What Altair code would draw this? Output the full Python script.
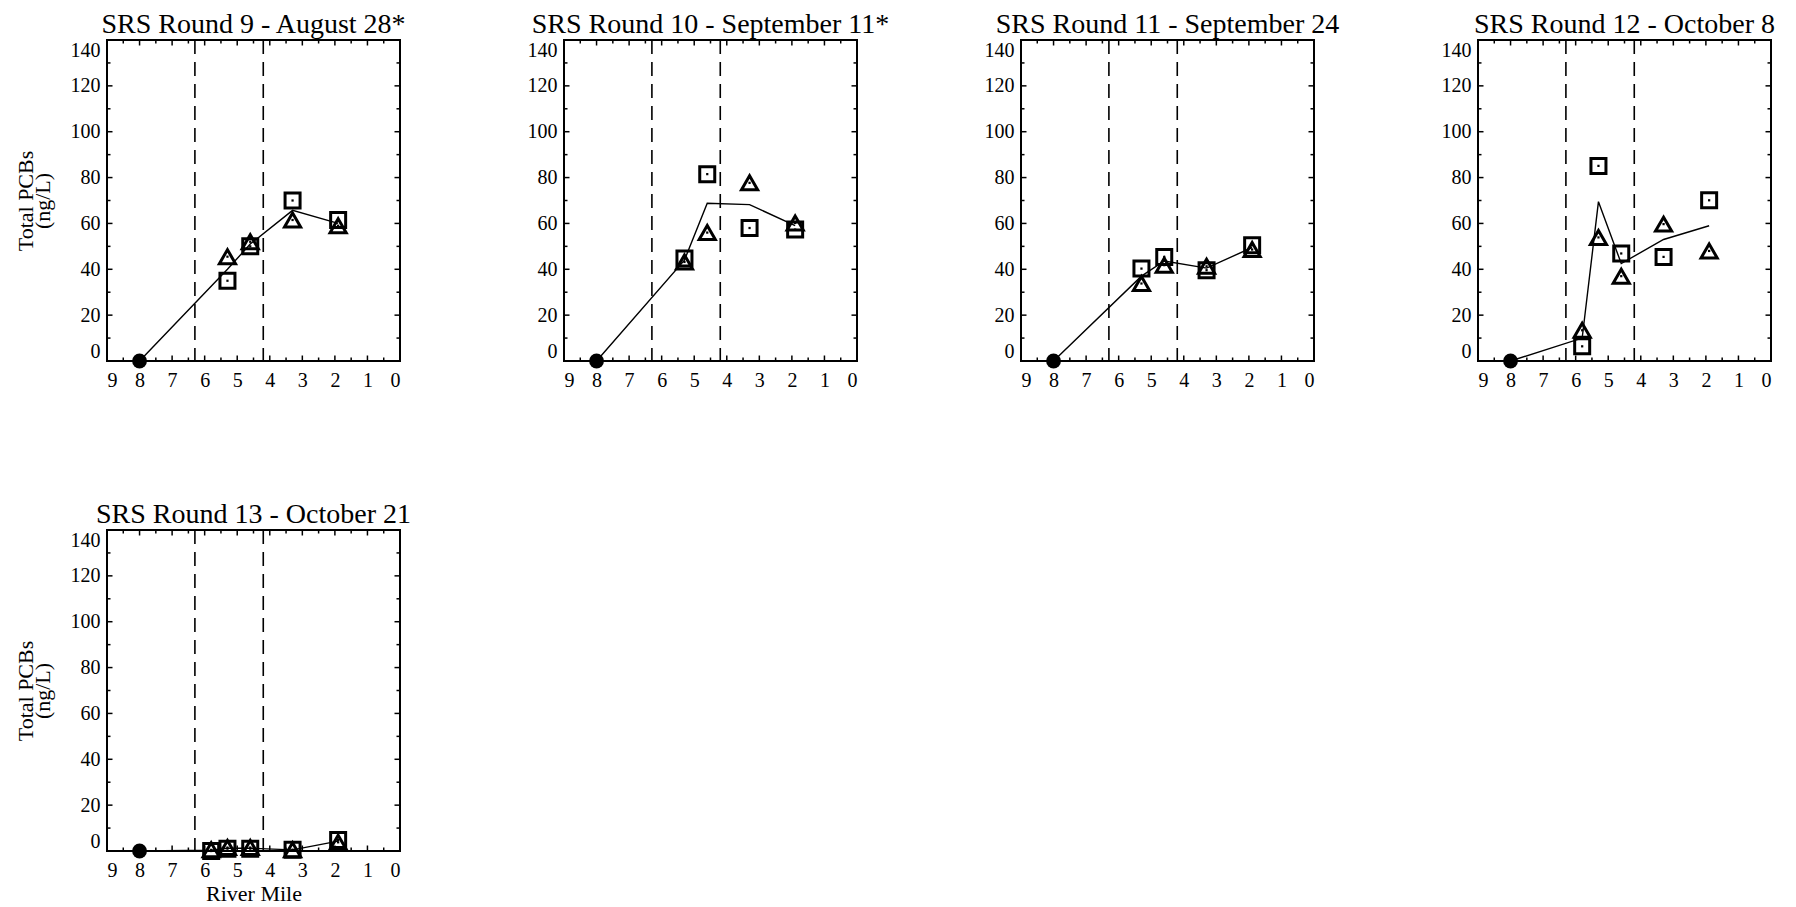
import altair as alt
import pandas as pd

FONT = "Liberation Serif"

titles = [
    "SRS Round 9 - August 28*",
    "SRS Round 10 - September 11*",
    "SRS Round 11 - September 24",
    "SRS Round 12 - October 8",
    "SRS Round 13 - October 21",
]

# River mile of sampling stations (x) and Total PCBs ng/L (y)
# Round 9
r9_sq_x = [5.3, 4.6, 3.3, 1.9]
r9_sq_y = [35, 50, 70, 61.5]
r9_tri_x = [5.3, 4.6, 3.3, 1.9]
r9_tri_y = [45.5, 52, 61.5, 59]
r9_line_x = [8, 5.3, 4.6, 3.3, 1.9]
r9_line_y = [0, 40, 51, 65.7, 60]
# Round 10
r10_sq_x = [5.3, 4.6, 3.3, 1.9]
r10_sq_y = [44.7, 81.5, 58, 57.3]
r10_tri_x = [5.3, 4.6, 3.3, 1.9]
r10_tri_y = [43.2, 56, 77.7, 60.2]
r10_line_x = [8, 5.3, 4.6, 3.3, 1.9]
r10_line_y = [0, 44, 68.8, 68.2, 59]
# Round 11
r11_sq_x = [5.3, 4.6, 3.3, 1.9]
r11_sq_y = [40.3, 45.4, 39.6, 50.5]
r11_tri_x = [5.3, 4.6, 3.3, 1.9]
r11_tri_y = [33.8, 41.8, 41.3, 48.6]
r11_line_x = [8, 5.3, 4.6, 3.3, 1.9]
r11_line_y = [0, 37, 43.6, 40.5, 49.5]
# Round 12
r12_sq_x = [5.8, 5.3, 4.6, 3.3, 1.9]
r12_sq_y = [6.4, 85.1, 46.9, 45.4, 70.1]
r12_tri_x = [5.8, 5.3, 4.6, 3.3, 1.9]
r12_tri_y = [13.4, 53.9, 37, 59.7, 48]
r12_line_x = [8, 5.8, 5.3, 4.6, 3.3, 1.9]
r12_line_y = [0, 10, 69.5, 42.5, 53, 59]
# Round 13
r13_sq_x = [5.8, 5.3, 4.6, 3.3, 1.9]
r13_sq_y = [0, 1, 1, 0.5, 4.8]
r13_tri_x = [5.8, 5.3, 4.6, 3.3, 1.9]
r13_tri_y = [0.5, 1.5, 1.5, 0.5, 3.8]
r13_line_x = [8, 5.8, 5.3, 4.6, 3.3, 1.9]
r13_line_y = [0, 0.3, 1.2, 1.2, 0.5, 4.3]

upstream_x = [8]
upstream_y = [0]
boundary_x = [6.3, 4.2]

x_major = [0, 1, 2, 3, 4, 5, 6, 7, 8, 9]
x_minor = [0.5, 1.5, 2.5, 3.5, 4.5, 5.5, 6.5, 7.5, 8.5]
y_major = [0, 20, 40, 60, 80, 100, 120, 140]
y_minor = [10, 30, 50, 70, 90, 110, 130]

W, H = 293, 321
MAJ, MIN = 5.5, 3.5


def panel(title, sqx, sqy, trx, tr_y, lx, ly, ytitle, xtitle):
    xs = alt.Scale(domain=[0, 9], reverse=True, nice=False, zero=False)
    ys = alt.Scale(domain=[0, 140], nice=False)
    xaxis = alt.Axis(values=x_major, format="d", labelPadding=9, labelOverlap=False,
                     titlePadding=3, title=xtitle, grid=False, domain=False, ticks=False,
                     labelFont=FONT, labelFontSize=20, labelColor="black",
                     titleFont=FONT, titleFontSize=22, titleFontWeight="normal",
                     titleColor="black")
    yaxis = alt.Axis(values=y_major, format="d", labelPadding=7, labelFlush=True,
                     labelOverlap=False, titlePadding=16, titleLineHeight=17,
                     title=ytitle, grid=False, domain=False, ticks=False,
                     labelFont=FONT, labelFontSize=20, labelColor="black",
                     titleFont=FONT, titleFontSize=22, titleFontWeight="normal",
                     titleColor="black")
    X = lambda: alt.X("x:Q", scale=xs, axis=xaxis)
    Y = lambda: alt.Y("y:Q", scale=ys, axis=yaxis)

    ymaj = pd.DataFrame({"y": y_major})
    ymin = pd.DataFrame({"y": y_minor})
    xmaj = pd.DataFrame({"x": x_major})
    xmin = pd.DataFrame({"x": x_minor})

    layers = []
    for d, L in ((ymaj, MAJ), (ymin, MIN)):
        layers.append(alt.Chart(d).mark_rule(color="black", strokeWidth=1.5)
                      .encode(y=Y(), x=alt.value(0), x2=alt.value(L)))
        layers.append(alt.Chart(d).mark_rule(color="black", strokeWidth=1.5)
                      .encode(y=Y(), x=alt.value(W), x2=alt.value(W - L)))
    for d, L in ((xmaj, MAJ), (xmin, MIN)):
        layers.append(alt.Chart(d).mark_rule(color="black", strokeWidth=1.5)
                      .encode(x=X(), y=alt.value(H), y2=alt.value(H - L)))
        layers.append(alt.Chart(d).mark_rule(color="black", strokeWidth=1.5)
                      .encode(x=X(), y=alt.value(0), y2=alt.value(L)))

    layers.append(alt.Chart(pd.DataFrame({"x": boundary_x}))
                  .mark_rule(color="black", strokeWidth=1.6, strokeDash=[14, 8])
                  .encode(x=X()))

    line_df = pd.DataFrame({"x": lx, "y": ly, "o": list(range(len(lx)))})
    layers.append(alt.Chart(line_df).mark_line(color="black", strokeWidth=1.4)
                  .encode(x=X(), y=Y(), order="o:Q"))

    sq_df = pd.DataFrame({"x": sqx, "y": sqy})
    tr_df = pd.DataFrame({"x": trx, "y": tr_y})
    layers.append(alt.Chart(sq_df).mark_point(shape="square", size=225, strokeWidth=3,
                                              color="black", opacity=1, filled=False)
                  .encode(x=X(), y=Y()))
    layers.append(alt.Chart(tr_df).mark_point(shape="triangle-up", size=260, strokeWidth=3,
                                              color="black", opacity=1, filled=False)
                  .encode(x=X(), y=Y()))
    for d in (sq_df, tr_df):
        layers.append(alt.Chart(d).mark_square(size=5, color="black", opacity=1)
                      .encode(x=X(), y=Y()))

    up_df = pd.DataFrame({"x": upstream_x, "y": upstream_y})
    layers.append(alt.Chart(up_df).mark_circle(size=220, color="black", opacity=1)
                  .encode(x=X(), y=Y()))

    return alt.layer(*layers).properties(
        width=W, height=H,
        title=alt.TitleParams(title, font=FONT, fontSize=28, fontWeight="normal",
                              color="black", offset=0),
    )


YT = ["Total PCBs", "(ng/L)"]
p1 = panel(titles[0], r9_sq_x, r9_sq_y, r9_tri_x, r9_tri_y, r9_line_x, r9_line_y, YT, None)
p2 = panel(titles[1], r10_sq_x, r10_sq_y, r10_tri_x, r10_tri_y, r10_line_x, r10_line_y, None, None)
p3 = panel(titles[2], r11_sq_x, r11_sq_y, r11_tri_x, r11_tri_y, r11_line_x, r11_line_y, None, None)
p4 = panel(titles[3], r12_sq_x, r12_sq_y, r12_tri_x, r12_tri_y, r12_line_x, r12_line_y, None, None)
p5 = panel(titles[4], r13_sq_x, r13_sq_y, r13_tri_x, r13_tri_y, r13_line_x, r13_line_y, YT, "River Mile")

chart = alt.concat(
    p1, p2, p3, p4, p5, columns=4, spacing={"row": 169, "column": 164}, bounds="flush"
).properties(
    padding={"left": 5, "top": 2, "right": 0, "bottom": 0},
    background="white",
).configure_view(
    stroke="black", strokeWidth=2
)

chart.save("out.html", embed_options={"renderer": "svg", "actions": False})
